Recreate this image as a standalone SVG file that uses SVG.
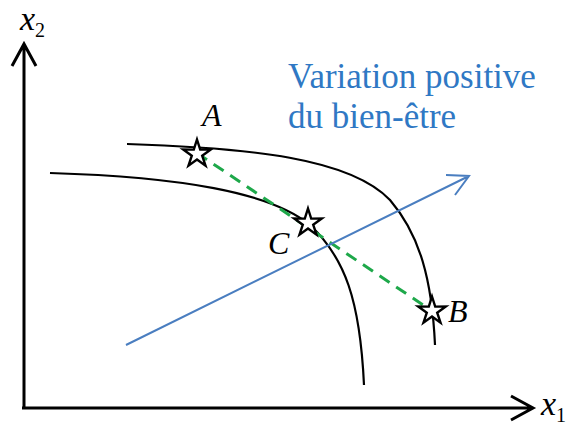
<svg xmlns="http://www.w3.org/2000/svg" width="573" height="427" viewBox="0 0 573 427">
<style>
.axis{stroke:#000;stroke-width:3;fill:none}
.curve{stroke:#000;stroke-width:2.2;fill:none}
.star{fill:#fff;stroke:#000;stroke-width:2.4;stroke-linejoin:miter}
</style>
<defs>
<path id="starShape" d="M0,-14.5 L3.2,-4.4 L13.8,-4.5 L5.2,1.7 L8.5,11.7 L0,5.5 L-8.5,11.7 L-5.2,1.7 L-13.8,-4.5 L-3.2,-4.4 Z"/>
</defs>
<rect width="573" height="427" fill="#fff"/>
<g id="axes">
<path class="axis" d="M24,408 L24,44 M12,66 L24,44 L36,66"/>
<path class="axis" d="M22,408 L533,408 M511,396 L533,408 L511,420"/>
<text x="20" y="30" font-family="Liberation Serif, serif" font-size="34" font-style="italic" fill="#000">x<tspan font-style="normal" font-size="20" dy="7">2</tspan></text>
<text x="541" y="415" font-family="Liberation Serif, serif" font-size="34" font-style="italic" fill="#000">x<tspan font-style="normal" font-size="20" dy="7">1</tspan></text>
</g>
<g id="connectors">
<path class="curve" d="M127,144 C250,148 350,158 390,200 C420,235 432,280 435,345"/>
<path class="curve" d="M50,173 C180,177 270,192 310,225 C345,258 360,300 364,385"/>
<path d="M197,153 L432,311" stroke="#1EA84A" stroke-width="3" stroke-dasharray="12,8" fill="none"/>
<path d="M126,345 L469,176 M446,175 L469,176 L455,195" stroke="#4A7EC0" stroke-width="2" fill="none"/>
</g>
<g id="A"><use href="#starShape" class="star" x="197" y="154"/><text x="202" y="126" font-family="Liberation Serif, serif" font-size="32" font-style="italic" fill="#000">A</text></g>
<g id="C"><use href="#starShape" class="star" x="308" y="223"/><text x="268" y="254" font-family="Liberation Serif, serif" font-size="32" font-style="italic" fill="#000">C</text></g>
<g id="B"><use href="#starShape" class="star" x="432" y="311"/><text x="448" y="322" font-family="Liberation Serif, serif" font-size="32" font-style="italic" fill="#000">B</text></g>
<g id="label"><text x="288" y="88" font-family="Liberation Serif, serif" font-size="35" fill="#2F78C4">Variation positive</text><text x="288" y="128" font-family="Liberation Serif, serif" font-size="35" fill="#2F78C4">du bien-être</text></g>
</svg>
